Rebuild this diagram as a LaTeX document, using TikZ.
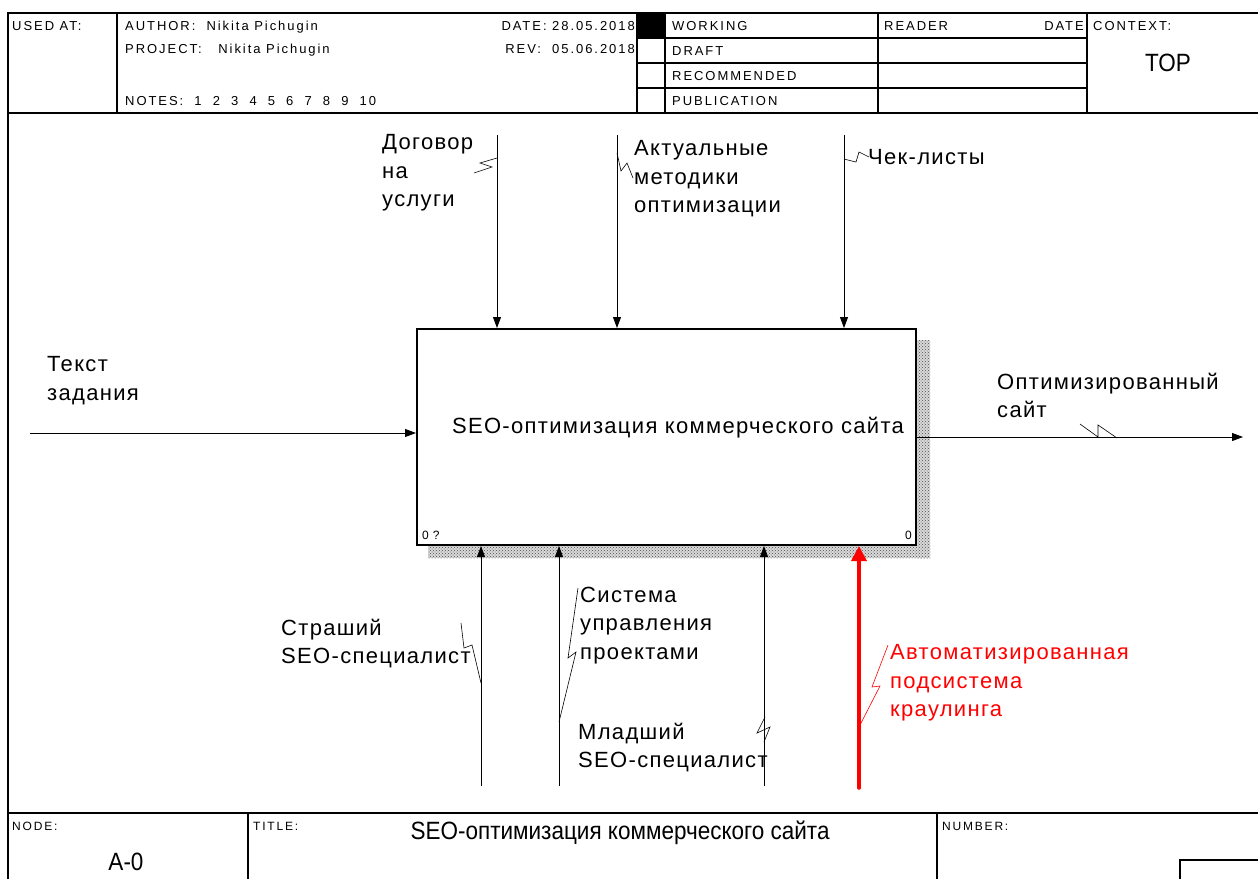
\documentclass[tikz,border=0pt]{standalone}
\usepackage{fontspec}
\setmainfont[LetterSpace=6]{Liberation Sans}
\newfontfamily\hdrfont[LetterSpace=15]{Liberation Sans}
\newfontfamily\narrowfont[FakeStretch=0.9]{Liberation Sans}
\usetikzlibrary{arrows.meta,patterns}
\tikzset{
frm/.style={line width=1.2pt},
hdr/.style={font=\hdrfont\fontsize{13}{14}\selectfont, anchor=base west, inner sep=0pt},
lbl/.style={
  font=\fontsize{22}{28.5}\selectfont,
  align=left,
  anchor=north west,
  inner sep=0pt,
  yshift=15.5pt
  },
flow/.style={->, line width=0.8pt},
zig/.style={line width=0.6pt},
shadow/.style={fill=black!15, postaction={pattern=crosshatch dots, pattern color=black!70}}
}

\begin{document}
\begin{tikzpicture}[x=1pt, y=-1pt, >={Triangle[length=11pt,width=8pt]}]
\useasboundingbox (0,0) rectangle (1258,879);

% frame and header grid
\draw[frm] (8,879) -- (8,13) -- (1258,13);
\draw[frm] (8,113) -- (1258,113);
\draw[frm] (8,813) -- (1258,813);
\fill (637,13) rectangle (665,38);
\foreach \xx in {117,637,665,878,1087}
  \draw[frm] (\xx,13) -- (\xx,113);
\foreach \yy in {38,63,88}
  \draw[frm] (637,\yy) -- (1087,\yy);

\node[hdr] (usedat) at (12,30) {USED AT:};
\node[hdr] (author) at (125,30) {AUTHOR:\ \ Nikita Pichugin};
\node[hdr] (project) at (125,53) {PROJECT:\ \ \ Nikita Pichugin};
\node[hdr] (notes) at (125,105) {NOTES:\ \ 1\ \ 2\ \ 3\ \ 4\ \ 5\ \ 6\ \ 7\ \ 8\ \ 9\ \ 10};
\node[hdr, anchor=base east] (date) at (635,30) {DATE: 28.05.2018};
\node[hdr, anchor=base east] (rev) at (635,53) {REV:\ \ 05.06.2018};
\node[hdr] (working) at (672,30) {WORKING};
\node[hdr] (draft) at (672,55) {DRAFT};
\node[hdr] (recom) at (672,80) {RECOMMENDED};
\node[hdr] (publ) at (672,105) {PUBLICATION};
\node[hdr] (reader) at (884,30) {READER};
\node[hdr, anchor=base east] (rdate) at (1084,30) {DATE};
\node[hdr] (context) at (1093,30) {CONTEXT:};
\node[font=\narrowfont\fontsize{25}{28}\selectfont, inner sep=0pt] (top) at (1168,63) {TOP};

% footer
\draw[frm] (248,813) -- (248,879);
\draw[frm] (937,813) -- (937,879);
\draw[frm] (1180,879) -- (1180,860) -- (1258,860);
\node[hdr, font=\hdrfont\fontsize{12}{14}\selectfont] (nodelbl) at (12,830) {NODE:};
\node[hdr, font=\hdrfont\fontsize{12}{14}\selectfont] (titlelbl) at (253,830) {TITLE:};
\node[hdr, font=\hdrfont\fontsize{12}{14}\selectfont] (numlbl) at (942,830) {NUMBER:};
\node[font=\narrowfont\fontsize{25}{28}\selectfont, inner sep=0pt] (title) at (620,833) {SEO-оптимизация коммерческого сайта};
\node[font=\narrowfont\fontsize{25}{28}\selectfont, inner sep=0pt] (nodenum) at (126,862) {A-0};

% activity box
\path[shadow] (916,340) rectangle (930,558);
\path[shadow] (428,545) rectangle (930,558);
\node[draw, fill=white, line width=2pt, minimum width=499pt, minimum height=216pt, inner sep=0pt] (func) at (666.5,437) {};
\node[font=\fontsize{22}{24}\selectfont, inner sep=0pt] (functxt) at (678,428) {SEO-оптимизация коммерческого сайта};
\node[hdr, font=\fontsize{12}{14}\selectfont] (boxnum) at (422,539) {0 ?};
\node[hdr, font=\fontsize{12}{14}\selectfont, anchor=base east] (boxnode) at (912,539) {0};

% input / output
\coordinate (in1) at (30,433);
\coordinate (out1) at (1243,437);
\draw[flow] (in1) -- (in1 -| func.west);
\draw[flow] (out1 -| func.east) -- (out1);
\node[lbl] (intxt) at (47,372) {Текст\\задания};
\node[lbl] (outtxt) at (997,388) {Оптимизированный\\сайт};
\draw[zig] (1080,424) -- (1098,437) -- (1098,425) -- (1117,438);

% controls
\coordinate (c1) at (497,135);
\coordinate (c2) at (617,135);
\coordinate (c3) at (844,135);
\foreach \cc in {c1,c2,c3}
  \draw[flow] (\cc) -- (\cc |- func.north);
\node[lbl] (c1txt) at (382,150) {Договор\\на\\услуги};
\node[lbl] (c2txt) at (634,156) {Актуальные\\методики\\оптимизации};
\node[lbl] (c3txt) at (868,165) {Чек-листы};
\draw[zig] (474,173) -- (492,167) -- (480,163) -- (497,158);
\draw[zig] (617,153) -- (621,171) -- (627,163) -- (633,178);
\draw[zig] (844,159) -- (856,162) -- (859,152) -- (869,157);

% mechanisms
\coordinate (m1) at (481,786);
\coordinate (m2) at (559,786);
\coordinate (m3) at (764,786);
\coordinate (m4) at (859,788);
\foreach \mm in {m1,m2,m3}
  \draw[flow] (\mm) -- (\mm |- func.south);
\draw[red, line width=3.5pt, line cap=round, -{Triangle[length=15pt,width=15pt]}] (m4) -- (m4 |- func.south);
\node[lbl] (m1txt) at (281,634) {Страший\\SEO-специалист};
\node[lbl] (m2txt) at (580,602) {Система\\управления\\проектами};
\node[lbl] (m3txt) at (578,738) {Младший\\SEO-специалист};
\node[lbl, text=red] (m4txt) at (890,660) {Автоматизированная\\подсистема\\краулинга};
\draw[zig] (461,623) -- (464,648) -- (472,645) -- (481,683);
\draw[zig] (578,588) -- (568,658) -- (576,652) -- (559,722);
\draw[zig] (765,717) -- (757,733) -- (770,727) -- (764,742);
\draw[zig, red] (888,645) -- (872,687) -- (880,686) -- (860,725);
\end{tikzpicture}
\end{document}
